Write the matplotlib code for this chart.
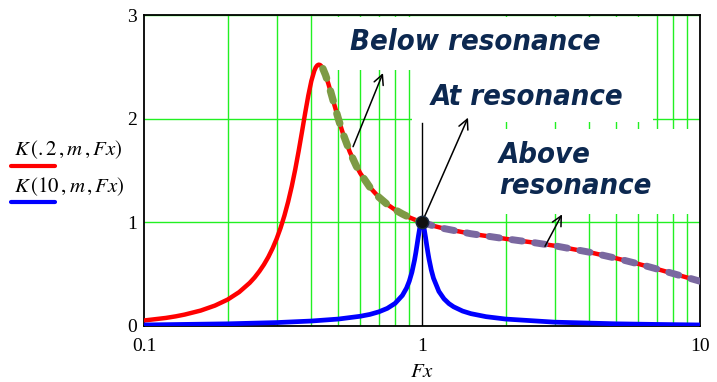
import matplotlib
matplotlib.use('Agg')
import matplotlib.pyplot as plt
from matplotlib.patches import Rectangle
from matplotlib.lines import Line2D

# K(.2, m, Fx)
fx_red = [0.1, 0.12, 0.13, 0.14, 0.16, 0.18, 0.2, 0.22, 0.24, 0.25, 0.26, 0.27, 0.28, 0.29,
          0.3, 0.31, 0.32, 0.33, 0.34, 0.35, 0.36, 0.37, 0.38, 0.39, 0.40, 0.41, 0.415,
          0.42, 0.425, 0.43, 0.435, 0.44, 0.45, 0.46, 0.47, 0.48, 0.5, 0.52, 0.55, 0.58,
          0.6, 0.65, 0.7, 0.75, 0.8, 0.85, 0.9, 0.95, 1.0, 1.1, 1.2, 1.5, 2, 2.5, 3, 4, 5,
          6, 7, 8, 10]
k_red = [0.053, 0.078, 0.093, 0.110, 0.149, 0.197, 0.255, 0.327, 0.416, 0.468, 0.527,
         0.592, 0.665, 0.748, 0.841, 0.946, 1.065, 1.198, 1.346, 1.510, 1.687, 1.871,
         2.054, 2.223, 2.364, 2.463, 2.495, 2.514, 2.521, 2.518, 2.505, 2.483, 2.420,
         2.341, 2.255, 2.167, 2.0, 1.855, 1.679, 1.545, 1.473, 1.337, 1.242, 1.173,
         1.121, 1.081, 1.048, 1.022, 1.0, 0.966, 0.940, 0.890, 0.841, 0.806, 0.774,
         0.712, 0.653, 0.599, 0.550, 0.506, 0.432]

# K(10, m, Fx)
fx_blue = [0.1, 0.2, 0.3, 0.4, 0.5, 0.6, 0.65, 0.7, 0.75, 0.8, 0.85, 0.88, 0.9, 0.92, 0.94,
           0.95, 0.96, 0.97, 0.98, 0.99, 1.0, 1.01, 1.02, 1.03, 1.04, 1.05, 1.06, 1.08,
           1.1, 1.15, 1.2, 1.25, 1.3, 1.4, 1.5, 1.7, 2, 3, 5, 7, 10]
k_blue = [0.010, 0.021, 0.033, 0.048, 0.067, 0.094, 0.112, 0.137, 0.170, 0.218, 0.295,
          0.366, 0.432, 0.519, 0.635, 0.705, 0.783, 0.862, 0.934, 0.984, 1.0, 0.977,
          0.924, 0.854, 0.779, 0.709, 0.645, 0.540, 0.461, 0.334, 0.262, 0.216, 0.185,
          0.144, 0.119, 0.090, 0.067, 0.037, 0.021, 0.015, 0.010]

x_ticks = [0.1, 1, 10]
x_tick_labels = ['0.1', '1', '10']
y_ticks = [0, 1, 2, 3]

below_start = 0.44   # olive dashes start just past the peak
navy = '#0c2850'
grid_green = '#22f022'

plt.rcParams['mathtext.fontset'] = 'stix'

fig = plt.figure(figsize=(7.17, 3.82), dpi=100)
ax = fig.add_axes([0.2008, 0.1466, 0.7755, 0.8141])

ax.set_xscale('log')
ax.set_xlim(0.1, 10)
ax.set_ylim(0, 3)

# grid: minor verticals on log axis, horizontals at 1 and 2
ax.set_xticks(x_ticks)
ax.set_xticklabels(x_tick_labels)
ax.set_yticks(y_ticks)
ax.xaxis.grid(True, which='minor', color=grid_green, lw=1)
ax.yaxis.grid(True, which='major', color=grid_green, lw=1)
ax.set_axisbelow(True)
ax.tick_params(which='both', length=0)
ax.tick_params(axis='x', pad=9)
ax.tick_params(axis='y', pad=5)
for lab in ax.get_xticklabels() + ax.get_yticklabels():
    lab.set_fontfamily('Liberation Serif')
    lab.set_fontsize(14)
for sp in ax.spines.values():
    sp.set_linewidth(1.3)
    sp.set_color('black')

# white panels behind the annotation texts (hide the grid there)
for (x0, y0, w, h) in [(0.313, 0.823, 0.602, 0.170),
                       (0.482, 0.656, 0.433, 0.168),
                       (0.530, 0.360, 0.470, 0.273)]:
    ax.add_patch(Rectangle((x0, y0), w, h, transform=ax.transAxes,
                           facecolor='white', edgecolor='none', zorder=1))

# marker line at Fx = 1
ax.plot([1, 1], [0, 1.96], color='black', lw=1, zorder=2)

ax.plot(fx_red, k_red, color='#ff0000', lw=3.2, zorder=3)
ax.plot(fx_blue, k_blue, color='#0000ff', lw=3.4, zorder=3)

below_x = [x for x in fx_red if below_start <= x <= 1.0]
below_k = [k for x, k in zip(fx_red, k_red) if below_start <= x <= 1.0]
above_x = [x for x in fx_red if x >= 1.0]
above_k = [k for x, k in zip(fx_red, k_red) if x >= 1.0]
ax.plot(below_x, below_k, color='#7d9a45', lw=5.3, ls=(0, (1.4, 1.8)),
        dash_capstyle='round', zorder=4)
ax.plot(above_x, above_k, color='#7a68a0', lw=5.0, ls=(0, (1.5, 1.8)),
        dash_capstyle='round', zorder=4)

ax.plot([1], [1], 'o', color='#111111', markersize=9, markeredgecolor='#1a2a40',
        zorder=6)

# annotations
txt = dict(color=navy, fontsize=21, fontweight='bold', fontstyle='italic',
           family='DejaVu Sans', fontstretch='condensed', zorder=7)
ax.text(0.371, 0.913, 'Below resonance', transform=ax.transAxes, va='center', ha='left',
        **txt)
ax.text(0.516, 0.736, 'At resonance', transform=ax.transAxes, va='center', ha='left',
        **txt)
ax.text(0.638, 0.500, 'Above\nresonance', transform=ax.transAxes, va='center', ha='left',
        linespacing=1.1, **txt)

arrow = dict(arrowstyle='->,head_length=0.7,head_width=0.35', color='black', lw=1.1,
             shrinkA=0, shrinkB=0)
ax.annotate('', xy=(0.724, 2.44), xytext=(0.565, 1.73), arrowprops=arrow, zorder=5)
ax.annotate('', xy=(1.464, 2.01), xytext=(1.0, 1.0), arrowprops=arrow, zorder=5)
ax.annotate('', xy=(3.19, 1.077), xytext=(2.77, 0.769), arrowprops=arrow, zorder=5)

ax.set_xlabel('$Fx$', fontsize=15, labelpad=4)

# Mathcad style legend on the left
fig.text(0.0195, 0.607, r'$K\,(.2\,,m\,,Fx)$', fontsize=15, va='center', ha='left')
fig.text(0.0195, 0.5105, r'$K\,(10\,,m\,,Fx)$', fontsize=15, va='center', ha='left')
fig.add_artist(Line2D([0.0153, 0.0767], [0.5654, 0.5654], color='#ff0000', lw=3,
                      solid_capstyle='round'))
fig.add_artist(Line2D([0.0153, 0.0767], [0.4712, 0.4712], color='#0000ff', lw=3,
                      solid_capstyle='round'))

fig.savefig('out.png', dpi=100)
